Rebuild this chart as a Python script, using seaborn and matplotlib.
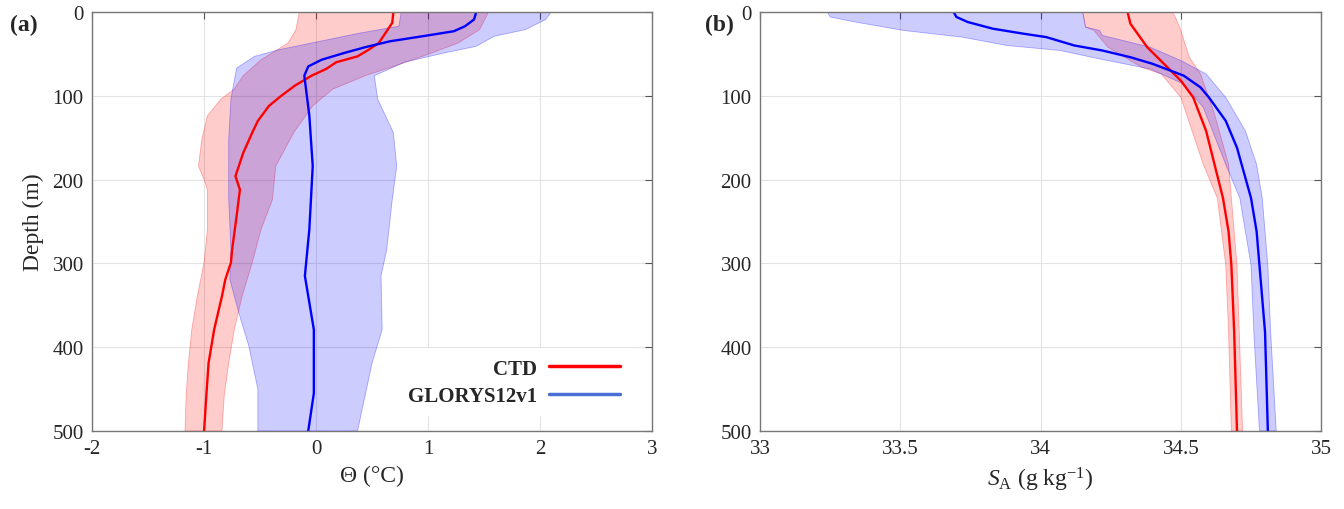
import numpy as np
import matplotlib
matplotlib.use('Agg')
import matplotlib.pyplot as plt
from matplotlib.lines import Line2D
import seaborn as sns

# panel (a): conservative temperature, deg C
ctd_theta_depth = [0, 13, 21, 37, 45, 53, 60, 68, 76, 88, 100, 112, 130, 144, 168, 196, 212, 244, 284, 299, 319, 339, 379, 419, 458, 500]
ctd_theta = [0.69, 0.68, 0.64, 0.56, 0.47, 0.37, 0.18, 0.09, -0.04, -0.19, -0.31, -0.42, -0.52, -0.57, -0.65, -0.72, -0.68, -0.71, -0.75, -0.76, -0.81, -0.84, -0.91, -0.96, -0.98, -1.0]
ctd_theta_lo_depth = [0, 21, 37, 57, 76, 92, 104, 124, 152, 184, 200, 212, 259, 299, 339, 379, 419, 458, 500]
ctd_theta_lo = [-0.15, -0.18, -0.25, -0.49, -0.65, -0.73, -0.85, -0.97, -1.02, -1.05, -1.0, -0.97, -0.97, -1.0, -1.06, -1.11, -1.14, -1.16, -1.17]
ctd_theta_hi_depth = [0, 21, 37, 53, 65, 76, 92, 112, 144, 184, 224, 259, 299, 339, 379, 419, 458, 500]
ctd_theta_hi = [1.54, 1.46, 1.27, 0.95, 0.69, 0.44, 0.15, -0.03, -0.2, -0.36, -0.39, -0.49, -0.57, -0.66, -0.73, -0.78, -0.82, -0.84]

gl_theta_depth = [0, 9, 17, 23, 29, 35, 42, 49, 57, 65, 76, 124, 184, 259, 315, 379, 455, 500]
gl_theta = [1.43, 1.41, 1.33, 1.23, 0.95, 0.66, 0.44, 0.25, 0.05, -0.07, -0.105, -0.06, -0.03, -0.06, -0.1, -0.02, -0.02, -0.07]
gl_theta_lo_depth = [0, 17, 25, 45, 53, 67, 104, 152, 224, 284, 319, 359, 399, 450, 500]
gl_theta_lo = [0.76, 0.74, 0.4, -0.33, -0.55, -0.71, -0.76, -0.78, -0.78, -0.76, -0.77, -0.69, -0.6, -0.52, -0.52]
gl_theta_hi_depth = [0, 9, 21, 29, 41, 49, 60, 76, 104, 144, 184, 224, 284, 315, 379, 419, 500]
gl_theta_hi = [2.1, 2.05, 1.87, 1.59, 1.43, 1.14, 0.79, 0.52, 0.55, 0.69, 0.72, 0.68, 0.63, 0.58, 0.59, 0.5, 0.37]

# panel (b): absolute salinity, g/kg
ctd_sa_depth = [0, 14, 42, 62, 82, 102, 142, 182, 222, 262, 302, 382, 500]
ctd_sa = [34.31, 34.32, 34.38, 34.44, 34.50, 34.544, 34.59, 34.62, 34.65, 34.67, 34.68, 34.69, 34.70]
ctd_sa_lo_depth = [0, 18, 22, 42, 66, 74, 102, 142, 182, 222, 302, 382, 500]
ctd_sa_lo = [34.15, 34.16, 34.19, 34.24, 34.36, 34.43, 34.50, 34.54, 34.58, 34.63, 34.66, 34.67, 34.68]
ctd_sa_hi_depth = [0, 6, 22, 54, 74, 122, 182, 222, 302, 500]
ctd_sa_hi = [34.47, 34.48, 34.50, 34.53, 34.57, 34.62, 34.67, 34.68, 34.70, 34.72]

gl_sa_depth = [0, 6, 12, 20, 26, 30, 40, 46, 54, 62, 76, 90, 102, 130, 162, 222, 262, 302, 382, 500]
gl_sa = [33.69, 33.70, 33.74, 33.83, 33.94, 34.02, 34.12, 34.22, 34.32, 34.40, 34.51, 34.57, 34.60, 34.66, 34.70, 34.75, 34.77, 34.78, 34.80, 34.81]
gl_sa_lo_depth = [0, 6, 12, 22, 30, 40, 46, 56, 68, 86, 114, 182, 222, 302, 382, 500]
gl_sa_lo = [33.24, 33.25, 33.34, 33.51, 33.72, 33.88, 34.07, 34.21, 34.39, 34.51, 34.58, 34.66, 34.71, 34.75, 34.76, 34.78]
gl_sa_hi_depth = [0, 18, 22, 28, 42, 58, 74, 102, 142, 182, 222, 302, 382, 500]
gl_sa_hi = [34.15, 34.16, 34.21, 34.22, 34.39, 34.50, 34.59, 34.66, 34.73, 34.77, 34.79, 34.81, 34.82, 34.84]

sns.set_style('white')
plt.rcParams['font.family'] = ['Liberation Serif', 'DejaVu Serif']
plt.rcParams['mathtext.fontset'] = 'custom'
plt.rcParams['mathtext.rm'] = 'Liberation Serif'
plt.rcParams['mathtext.it'] = 'Liberation Serif:italic'
plt.rcParams['axes.unicode_minus'] = False

RED = '#ff0000'
BLUE = '#0000ff'


def band(ax, lo, lo_d, hi, hi_d, color):
    xs = np.r_[lo, hi[::-1]]
    ys = np.r_[lo_d, hi_d[::-1]]
    ax.fill(xs, ys, fc=matplotlib.colors.to_rgba(color, 0.2),
            ec=matplotlib.colors.to_rgba(color, 0.3), lw=0.6)


def profile(ax, x, d, color):
    sns.lineplot(x=x, y=d, orient='y', sort=False, estimator=None,
                 color=color, lw=1.7, ax=ax)


def style_axes(ax):
    ax.set_ylim(500, 0)
    ax.set_yticks(range(0, 501, 100))
    ax.grid(True, color='#e3e3e3', lw=0.8)
    ax.set_axisbelow(True)
    ax.tick_params(direction='in', top=True, right=True, length=5,
                   width=0.8, color='#555555', labelsize=15,
                   labelcolor='#262626', pad=6)
    for s in ax.spines.values():
        s.set_color('#777777')
        s.set_linewidth(1.0)


fig = plt.figure(figsize=(13.44, 5.1), dpi=100)
ax1 = fig.add_axes([0.0685, 0.153, 0.4167, 0.8216])
ax2 = fig.add_axes([0.5655, 0.153, 0.4175, 0.8216])

# (a)
band(ax1, ctd_theta_lo, ctd_theta_lo_depth, ctd_theta_hi, ctd_theta_hi_depth, RED)
profile(ax1, ctd_theta, ctd_theta_depth, RED)
band(ax1, gl_theta_lo, gl_theta_lo_depth, gl_theta_hi, gl_theta_hi_depth, BLUE)
profile(ax1, gl_theta, gl_theta_depth, BLUE)
ax1.set_xlim(-2, 3)
ax1.set_xticks(range(-2, 4))
style_axes(ax1)
ax1.set_xlabel('Θ (°C)', fontsize=17, color='#262626', labelpad=5)
ax1.set_ylabel('Depth (m)', fontsize=17, color='#262626', labelpad=6)

handles = [Line2D([], [], color=RED, lw=2.5), Line2D([], [], color='#4a6fd6', lw=2.5)]
leg = ax1.legend(handles, ['CTD', 'GLORYS12v1'], loc='lower right', markerfirst=False,
                 bbox_to_anchor=(0.984, 0.005),
                 frameon=True, fancybox=False, edgecolor='none', facecolor='white',
                 framealpha=1, prop={'weight': 'bold', 'size': 15},
                 handlelength=3.4, borderaxespad=0.6, labelspacing=0.35,
                 borderpad=0.5, handletextpad=0.6)
leg.set_zorder(5)

# (b)
band(ax2, ctd_sa_lo, ctd_sa_lo_depth, ctd_sa_hi, ctd_sa_hi_depth, RED)
profile(ax2, ctd_sa, ctd_sa_depth, RED)
band(ax2, gl_sa_lo, gl_sa_lo_depth, gl_sa_hi, gl_sa_hi_depth, BLUE)
profile(ax2, gl_sa, gl_sa_depth, BLUE)
ax2.set_xlim(33, 35)
ax2.set_xticks([33, 33.5, 34, 34.5, 35])
ax2.set_xticklabels(['33', '33.5', '34', '34.5', '35'])
style_axes(ax2)
ax2.set_xlabel(r'$S_\mathrm{A}$ (g kg$^{-1}$)', fontsize=17, color='#262626', labelpad=5)
ax2.set_ylabel('')

fig.text(0.0074, 0.951, '(a)', fontsize=17, weight='bold', va='center')
fig.text(0.5246, 0.951, '(b)', fontsize=17, weight='bold', va='center')

fig.savefig('out.png', dpi=100)
